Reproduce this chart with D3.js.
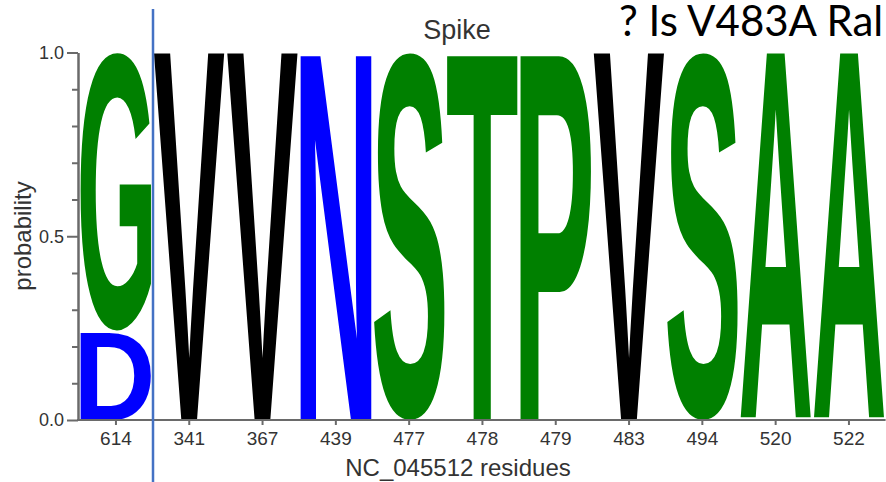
<!DOCTYPE html>
<html>
<head>
<meta charset="utf-8">
<script src="https://cdn.jsdelivr.net/npm/d3@7"></script>
<style>
  html, body { margin: 0; padding: 0; background: #fff; }
  svg { display: block; }
</style>
</head>
<body>
<svg id="chart" width="886" height="482"></svg>
<script>
// Spike residue positions (NC_045512 numbering) and the residue stack at each one
const residues = ["614", "341", "367", "439", "477", "478", "479", "483", "494", "520", "522"];
const topResidue = ["G", "V", "V", "N", "S", "T", "P", "V", "S", "A", "A"];
const topProbability = [0.76, 1, 1, 1, 1, 1, 1, 1, 1, 1, 1];
const baseResidue = ["D", "", "", "", "", "", "", "", "", "", ""];
const baseProbability = [0.24, 0, 0, 0, 0, 0, 0, 0, 0, 0, 0];
const yLabelTicks = [0, 0.5, 1.0];
const yMinorTicks = [0.1, 0.2, 0.3, 0.4, 0.6, 0.7, 0.8, 0.9];

const residueColor = {
  G: "#008000", S: "#008000", T: "#008000", P: "#008000", A: "#008000",
  V: "#000000", N: "#0000ff", D: "#0000ff"
};

const svg = d3.select("#chart");
const axisColor = "#6a6a6a";
const labelFont = "'Liberation Sans', Arial, Helvetica, sans-serif";

const x = d3.scaleBand().domain(residues).range([79.3, 885.6]).padding(0);
const y = d3.scaleLinear().domain([0, 1]).range([420, 52.5]);

// Build stacked boxes, lowest probability at the bottom
const stacks = residues.map((r, i) => {
  const items = [];
  let acc = 0;
  if (baseProbability[i] > 0) {
    items.push({ residue: r, letter: baseResidue[i], p0: acc, p1: acc + baseProbability[i] });
    acc += baseProbability[i];
  }
  items.push({ residue: r, letter: topResidue[i], p0: acc, p1: acc + topProbability[i] });
  return items;
});

// Ink bounds of each glyph, used to stretch letters to fill their box
const glyphSize = 200;
const glyphFont = `bold ${glyphSize}px 'Liberation Sans', Arial, Helvetica, sans-serif`;
const ctx = document.createElement("canvas").getContext("2d");
ctx.font = glyphFont;
const inkCache = {};
function ink(ch) {
  if (!inkCache[ch]) {
    const m = ctx.measureText(ch);
    inkCache[ch] = {
      l: m.actualBoundingBoxLeft, r: m.actualBoundingBoxRight,
      a: m.actualBoundingBoxAscent, d: m.actualBoundingBoxDescent
    };
  }
  return inkCache[ch];
}

const padX = 1.2, padY = 1.2;
const logo = svg.append("g").attr("class", "logo");
stacks.forEach(items => {
  items.forEach(it => {
    const b = ink(it.letter);
    const bx = x(it.residue) + padX;
    const bw = x.bandwidth() - 2 * padX;
    const top = y(it.p1) + (it.p1 < 1 ? padY : 0);
    const bottom = y(it.p0) - (it.p0 > 0 ? padY : 0);
    const bh = bottom - top;
    const sx = bw / (b.l + b.r);
    const sy = bh / (b.a + b.d);
    logo.append("text")
      .attr("transform", `translate(${bx},${top}) scale(${sx},${sy}) translate(${b.l},${b.a})`)
      .attr("x", 0).attr("y", 0)
      .style("font", glyphFont)
      .attr("fill", residueColor[it.letter])
      .text(it.letter);
  });
});

// Y axis: minor ticks every 0.1, labelled ticks at 0, 0.5 and 1
const yMinor = svg.append("g").attr("transform", "translate(78,0)")
  .call(d3.axisLeft(y).tickValues(yMinorTicks).tickSize(6).tickSizeOuter(0).tickFormat(""));
const yMajor = svg.append("g").attr("transform", "translate(78,0)")
  .call(d3.axisLeft(y).tickValues(yLabelTicks).tickSize(11).tickSizeOuter(0)
    .tickPadding(3).tickFormat(d3.format(".1f")));

// X axis
const xAxis = svg.append("g").attr("transform", "translate(0,420)")
  .call(d3.axisBottom(x).tickSize(5).tickSizeOuter(0).tickPadding(7));
xAxis.select(".domain").remove();
svg.append("line")
  .attr("x1", 77).attr("x2", x.range()[1]).attr("y1", 420).attr("y2", 420)
  .attr("stroke", axisColor).attr("stroke-width", 2);

[yMinor, yMajor].forEach(g => {
  g.selectAll(".tick text").style("font-size", "18px");
});
[yMinor, yMajor, xAxis].forEach(g => {
  g.selectAll(".domain").attr("stroke", axisColor).attr("stroke-width", 2);
  g.selectAll(".tick line").attr("stroke", axisColor).attr("stroke-width", 2);
  g.selectAll(".tick text").attr("fill", "#333").style("font-family", labelFont);
});
xAxis.selectAll(".tick text").style("font-size", "19px");

// Titles
svg.append("text").attr("x", 457).attr("y", 39).attr("text-anchor", "middle")
  .style("font-family", labelFont).style("font-size", "27px").attr("fill", "#333").text("Spike");
svg.append("text").attr("transform", "translate(31,236) rotate(-90)").attr("text-anchor", "middle")
  .style("font-family", labelFont).style("font-size", "24px").attr("fill", "#333").text("probability");
svg.append("text").attr("x", 458).attr("y", 476).attr("text-anchor", "middle")
  .style("font-family", labelFont).style("font-size", "24px").attr("fill", "#333").text("NC_045512 residues");

// Divider between position 614 and the remaining columns
svg.append("line").attr("x1", 153).attr("x2", 153).attr("y1", 9).attr("y2", 482)
  .attr("stroke", "#4472c4").attr("stroke-width", 2.5);

// Annotation
svg.append("text").attr("x", 619).attr("y", 36)
  .style("font-family", "Lato, 'Open Sans', sans-serif").style("font-size", "42px").attr("fill", "#000")
  .text("? Is V483A Ral");
</script>
</body>
</html>
